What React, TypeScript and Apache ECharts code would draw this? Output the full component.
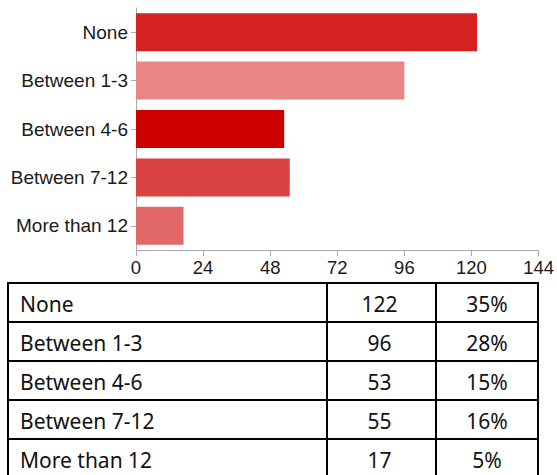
import React, { useEffect, useRef } from "react";
import * as echarts from "echarts";

const categories = ["None", "Between 1-3", "Between 4-6", "Between 7-12", "More than 12"];
const counts = [122, 96, 53, 55, 17];
const percents = ["35%", "28%", "15%", "16%", "5%"];
const barColors = ["#d42222", "#e88585", "#cc0000", "#db4242", "#e36868"];
const axisMax = 144;
const axisInterval = 24;

export default function App() {
  const ref = useRef<HTMLDivElement>(null);
  useEffect(() => {
    if (!ref.current) return;
    const chart = echarts.init(ref.current, null, { renderer: "svg" });

    // table layout
    const tLeft = 8;
    const tTop = 283;
    const rowH = 39;
    const colX = [8, 327, 436, 538];
    const tBottom = tTop + rowH * categories.length;
    const lineStyle = { stroke: "#000", lineWidth: 2 };
    const graphics: any[] = [];
    for (let i = 0; i <= categories.length; i++) {
      const y = tTop + i * rowH;
      graphics.push({ type: "line", shape: { x1: colX[0] - 1, y1: y, x2: colX[3] + 1, y2: y }, style: lineStyle, silent: true });
    }
    colX.forEach((x) => {
      graphics.push({ type: "line", shape: { x1: x, y1: tTop, x2: x, y2: tBottom }, style: lineStyle, silent: true });
    });
    const font = { fontFamily: "Noto Sans", fontSize: 21, fill: "#111" };
    categories.forEach((c, i) => {
      const cy = tTop + i * rowH + rowH / 2 + 1;
      graphics.push({ type: "text", x: tLeft + 12, y: cy, style: { ...font, text: c, align: "left", verticalAlign: "middle" } });
      graphics.push({ type: "text", x: (colX[1] + colX[2]) / 2 - 2, y: cy, style: { ...font, text: String(counts[i]), align: "center", verticalAlign: "middle" } });
      graphics.push({ type: "text", x: (colX[2] + colX[3]) / 2, y: cy, style: { ...font, text: percents[i], align: "center", verticalAlign: "middle" } });
    });

    chart.setOption({
      animation: false,
      grid: { left: 136, right: 16, top: 8, height: 242, containLabel: false },
      xAxis: {
        type: "value",
        min: 0,
        max: axisMax,
        interval: axisInterval,
        splitLine: { show: false },
        axisLine: { show: true, lineStyle: { color: "#aaa", width: 1 } },
        axisTick: { show: true, length: 6, lineStyle: { color: "#aaa" } },
        axisLabel: { color: "#1a1a1a", fontSize: 18.5, fontFamily: "Liberation Sans, Arial", margin: 8 },
      },
      yAxis: {
        type: "category",
        data: categories,
        inverse: true,
        axisLine: { show: true, lineStyle: { color: "#aaa", width: 1 } },
        axisTick: { show: true, length: 5, alignWithLabel: true, lineStyle: { color: "#aaa" } },
        axisLabel: { color: "#1a1a1a", fontSize: 19, fontFamily: "Liberation Sans, Arial", margin: 8 },
      },
      series: [
        {
          type: "bar",
          barWidth: 38,
          data: counts.map((v, i) => ({ value: v, itemStyle: { color: barColors[i] } })),
        },
      ],
      graphic: graphics,
    });
    return () => chart.dispose();
  }, []);
  return <div ref={ref} style={{ position: "absolute", left: 0, top: 0, width: 557, height: 475 }} />;
}
